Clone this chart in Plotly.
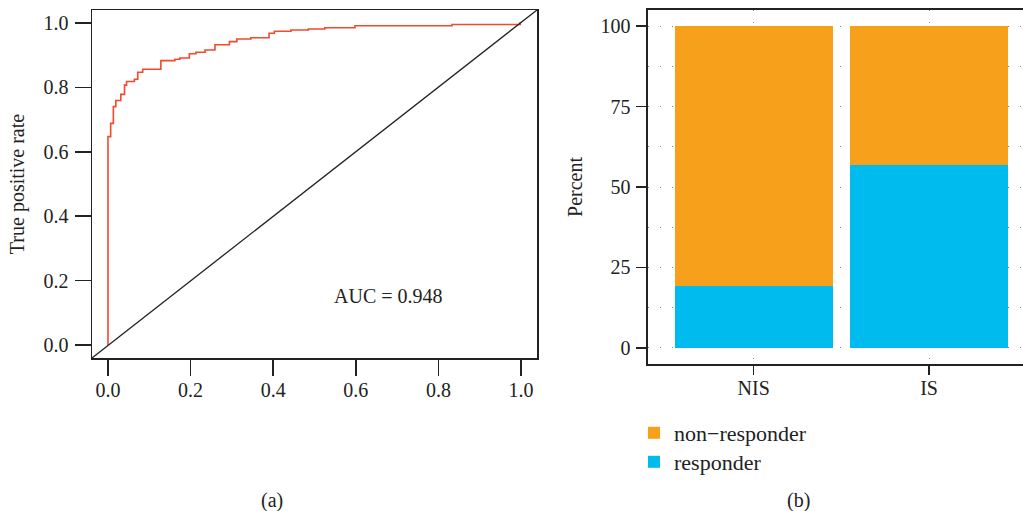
import plotly.graph_objects as go

# ---- data ----
roc_fpr = [0, 0, 0.0065, 0.013, 0.019, 0.031, 0.040, 0.045, 0.064, 0.072, 0.084, 0.111,
           0.128, 0.128, 0.162, 0.174, 0.197, 0.213, 0.235, 0.259, 0.294, 0.312, 0.346,
           0.390, 0.403, 0.443, 0.485, 0.525, 0.598, 0.833, 0.998, 1.0]
roc_tpr = [0, 0.647, 0.688, 0.740, 0.759, 0.778, 0.807, 0.818, 0.825, 0.847, 0.856, 0.856,
           0.873, 0.883, 0.887, 0.891, 0.904, 0.909, 0.916, 0.932, 0.942, 0.950, 0.954,
           0.968, 0.974, 0.978, 0.981, 0.985, 0.991, 0.995, 1.0, 1.0]
auc_label = "AUC = 0.948"

groups = ["NIS", "IS"]
responder = [19.1, 56.7]
non_responder = [80.9, 43.3]

roc_ticks = [0.0, 0.2, 0.4, 0.6, 0.8, 1.0]
roc_ticktext = ["0.0", "0.2", "0.4", "0.6", "0.8", "1.0"]
pct_ticks = [0, 25, 50, 75, 100]

# ---- style ----
FONT = "Liberation Serif"
RED = "#F24A2B"
ORANGE = "#F6A01C"
BLUE = "#00BCEE"
AX = "#222222"
GRID = "#888888"
W, H = 1023, 511

fig = go.Figure()

fig.add_trace(go.Scatter(x=roc_fpr, y=roc_tpr, mode="lines", line=dict(color=RED, width=1.6, shape="hv"),
                         showlegend=False, xaxis="x", yaxis="y", hoverinfo="skip"))

fig.add_trace(go.Bar(x=groups, y=responder, name="responder", marker=dict(color=BLUE, line=dict(width=0)),
                     width=0.9, xaxis="x2", yaxis="y2", legend="legend2"))
fig.add_trace(go.Bar(x=groups, y=non_responder, name="non\u2212responder",
                     marker=dict(color=ORANGE, line=dict(width=0)),
                     width=0.9, xaxis="x2", yaxis="y2", legend="legend"))

# diagonal reference line (abline y = x)
fig.add_shape(type="line", xref="x domain", yref="y domain", x0=0, y0=0, x1=1, y1=1,
              line=dict(color=AX, width=1.3))

fig.add_annotation(x=0.678, y=0.152, xref="x", yref="y", text=auc_label, showarrow=False,
                   xanchor="center", yanchor="middle",
                   font=dict(family=FONT, size=20, color=AX))
fig.add_annotation(x=272 / W, y=1 - 500 / H, xref="paper", yref="paper", text="(a)", showarrow=False,
                   xanchor="center", yanchor="middle",
                   font=dict(family=FONT, size=20, color=AX))
fig.add_annotation(x=798 / W, y=1 - 500 / H, xref="paper", yref="paper", text="(b)", showarrow=False,
                   xanchor="center", yanchor="middle",
                   font=dict(family=FONT, size=20, color=AX))

tickfont = dict(family=FONT, size=20, color=AX)
titlefont = dict(family=FONT, size=20, color=AX)
legfont = dict(family=FONT, size=22, color=AX)

fig.update_layout(
    width=W, height=H, margin=dict(l=0, r=0, t=0, b=0),
    paper_bgcolor="white", plot_bgcolor="white",
    barmode="stack", bargap=0.1,
    font=dict(family=FONT, color=AX),
    xaxis=dict(domain=[92 / W, 537 / W], range=[-0.0387, 1.0387], tickvals=roc_ticks, ticktext=roc_ticktext,
               showline=True, mirror=True, linecolor=AX, linewidth=1.5, ticks="outside", ticklen=16,
               tickwidth=1.5, tickcolor=AX, showgrid=False, zeroline=False, tickfont=tickfont,
               ticklabelstandoff=-3, anchor="y"),
    yaxis=dict(domain=[1 - 358 / H, 1 - 10 / H], range=[-0.04, 1.04], tickvals=roc_ticks, ticktext=roc_ticktext,
               showline=True, mirror=True, linecolor=AX, linewidth=1.5, ticks="outside", ticklen=16,
               tickwidth=1.5, tickcolor=AX, showgrid=False, zeroline=False, tickfont=tickfont,
               ticklabelstandoff=2, anchor="x",
               title=dict(text="True positive rate", font=titlefont, standoff=13)),
    xaxis2=dict(domain=[648 / W, 1.0], range=[-0.603, 1.536], type="category",
                showline=True, mirror=True, linecolor=AX, linewidth=1.6, ticks="outside", ticklen=9,
                tickwidth=1.5, tickcolor=AX, tickfont=tickfont, ticklabelstandoff=-4,
                showgrid=True, gridcolor=GRID, gridwidth=1, griddash="1px,11px",
                zeroline=False, anchor="y2"),
    yaxis2=dict(domain=[1 - 364 / H, 1 - 10 / H], range=[-5, 105], tickvals=pct_ticks,
                showline=True, mirror=False, linecolor=AX, linewidth=1.6, ticks="outside", ticklen=10,
                tickwidth=1.5, tickcolor=AX, tickfont=tickfont, ticklabelstandoff=2,
                showgrid=True, gridcolor=GRID, gridwidth=1, griddash="1px,11px",
                minor=dict(tick0=0, dtick=12.5, showgrid=True, gridcolor=GRID, gridwidth=1,
                           griddash="1px,11px"),
                zeroline=False, anchor="x2",
                title=dict(text="Percent", font=titlefont, standoff=12)),
    legend=dict(x=634 / W, y=1 - 433 / H, xanchor="left", yanchor="middle",
                font=legfont, bgcolor="rgba(0,0,0,0)", itemwidth=30),
    legend2=dict(x=634 / W, y=1 - 462 / H, xanchor="left", yanchor="middle",
                 font=legfont, bgcolor="rgba(0,0,0,0)", itemwidth=30),
)

fig.write_html("out.html", config={"displayModeBar": False, "staticPlot": True},
               post_script="document.body.style.margin='0';document.body.style.overflow='hidden';")
